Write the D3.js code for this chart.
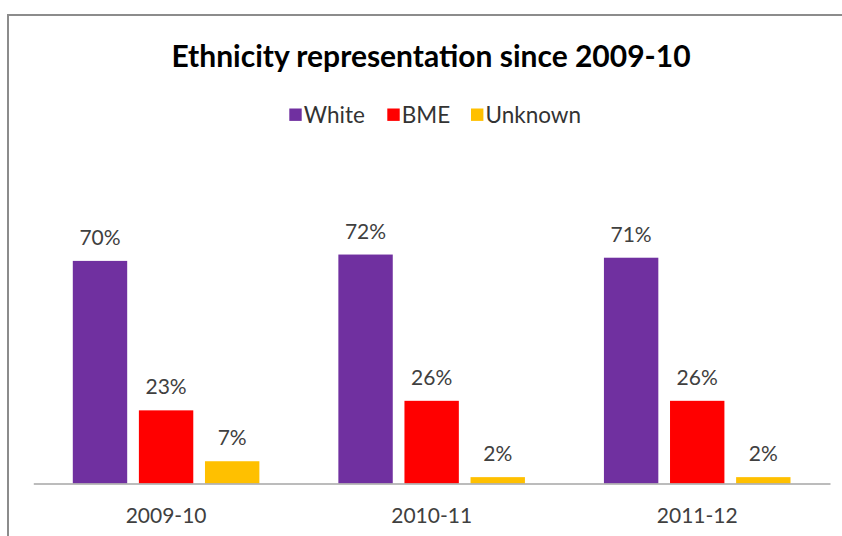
<!DOCTYPE html>
<html>
<head>
<meta charset="utf-8">
<script src="https://cdn.jsdelivr.net/npm/d3@7"></script>
<style>
  html, body { margin: 0; padding: 0; background: #fff; }
  svg { display: block; }
  text { font-family: Lato, "Open Sans", sans-serif; }
</style>
</head>
<body>
<script>
// Ethnicity shares per academic year
const years = ["2009-10", "2010-11", "2011-12"];
const seriesNames = ["White", "BME", "Unknown"];
const white = [70, 72, 71];
const bme = [23, 26, 26];
const unknown = [7, 2, 2];
const seriesColors = ["#7030A0", "#FF0000", "#FFC000"];

const values = [white, bme, unknown];
const rows = years.map((y, i) => ({
  year: y,
  bars: seriesNames.map((s, j) => ({ series: s, value: values[j][i], color: seriesColors[j] }))
}));

const W = 842, H = 536;
const svg = d3.select("body").append("svg").attr("width", W).attr("height", H);

// chart frame (runs off the right and bottom edges)
svg.append("rect")
  .attr("x", 8).attr("y", 15).attr("width", 860).attr("height", 560)
  .attr("fill", "#fff").attr("stroke", "#8c8c8c").attr("stroke-width", 2);

const plotLeft = 33.3, plotRight = 830, baseY = 483.5;

const x0 = d3.scaleBand().domain(years).range([plotLeft, plotRight]).padding(0);
const groupPad = 39.5;
const x1 = d3.scaleBand().domain(seriesNames)
  .range([groupPad, x0.bandwidth() - groupPad])
  .paddingInner(0.177).paddingOuter(0);
const y = d3.scaleLinear().domain([0, 80]).range([baseY, baseY - 80 * 3.18]);

// title
svg.append("text")
  .attr("x", 431).attr("y", 67)
  .attr("text-anchor", "middle")
  .attr("font-weight", "bold")
  .attr("font-size", 30)
  .attr("fill", "#000")
  .text("Ethnicity representation since 2009-10");

// legend
const legendItems = [
  { name: "White", x: 289.3 },
  { name: "BME", x: 387.3 },
  { name: "Unknown", x: 471 }
];
const lg = svg.append("g");
legendItems.forEach((d, i) => {
  lg.append("rect").attr("x", d.x).attr("y", 108.5).attr("width", 12.4).attr("height", 12.4)
    .attr("fill", seriesColors[i]);
  lg.append("text").attr("x", d.x + 14.5).attr("y", 123.3)
    .attr("font-size", 22.5).attr("fill", "#333").text(d.name);
});

// bars
const groups = svg.selectAll("g.year").data(rows).join("g")
  .attr("class", "year")
  .attr("transform", d => `translate(${x0(d.year)},0)`);

groups.selectAll("rect").data(d => d.bars).join("rect")
  .attr("x", d => x1(d.series))
  .attr("width", x1.bandwidth())
  .attr("y", d => y(d.value))
  .attr("height", d => y(0) - y(d.value))
  .attr("fill", d => d.color);

groups.selectAll("text.val").data(d => d.bars).join("text")
  .attr("class", "val")
  .attr("x", d => x1(d.series) + x1.bandwidth() / 2)
  .attr("y", d => y(d.value) - 16)
  .attr("text-anchor", "middle")
  .attr("font-size", 21)
  .attr("fill", "#404040")
  .text(d => d.value + "%");

// category axis
const xAxis = svg.append("g").attr("transform", `translate(0,${baseY})`)
  .call(d3.axisBottom(x0).tickSize(0).tickPadding(0));
xAxis.select(".domain").attr("stroke", "#a6a6a6").attr("stroke-width", 1.5);
xAxis.selectAll(".tick text")
  .attr("y", 39.5).attr("dy", 0)
  .attr("font-size", 21)
  .attr("fill", "#404040")
  .style("font-family", "Lato, 'Open Sans', sans-serif");
</script>
</body>
</html>
